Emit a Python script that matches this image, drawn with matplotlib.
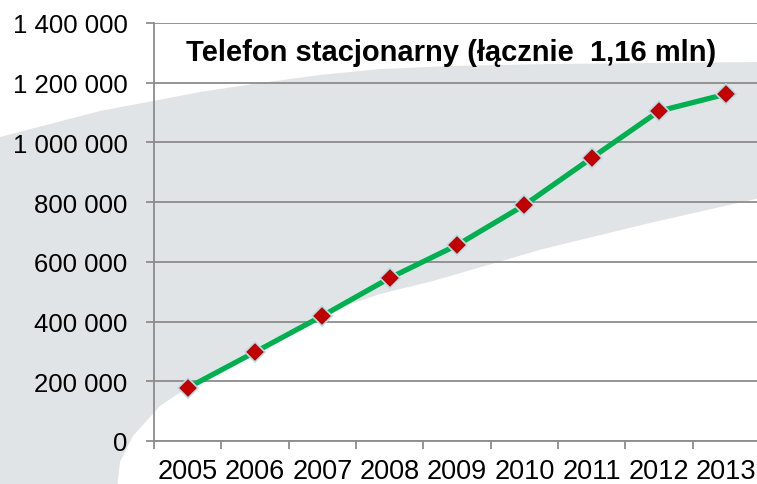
import numpy as np
import matplotlib
matplotlib.use("Agg")
import matplotlib.pyplot as plt
from matplotlib.patches import Polygon
from matplotlib.ticker import FuncFormatter, MultipleLocator

plt.rcParams['font.family'] = ['Liberation Sans', 'DejaVu Sans']

# data
years = ['2005', '2006', '2007', '2008', '2009', '2010', '2011', '2012', '2013']
users = [178000, 298000, 419000, 546000, 656000, 790000, 948000, 1105000, 1162000]
title = "Telefon stacjonarny (łącznie  1,16 mln)"

W, H = 757, 485
fig = plt.figure(figsize=(W / 100, H / 100), dpi=100)

# grey swoosh in the background (pixel outline of the decoration)
top_edge = [(0, 138), (50, 125), (100, 112), (153, 102), (200, 93), (253, 85),
            (320, 76), (380, 70), (450, 67), (550, 65), (760, 63)]
low_edge = [(760, 199), (650, 224), (543, 250), (433, 282), (380, 295), (330, 312),
            (267, 343), (200, 380), (160, 407), (133, 437), (120, 463), (117, 490)]
outline = np.array(top_edge + low_edge + [(0, 490)], dtype=float)
outline[:, 0] /= W
outline[:, 1] = 1 - outline[:, 1] / H
fig.patches.append(Polygon(outline, closed=True, transform=fig.transFigure,
                           facecolor='#e1e4e7', edgecolor='none', zorder=-5))

ax = fig.add_axes([154 / W, 43 / H, 606 / W, 418 / H])
ax.set_facecolor('none')

x = np.arange(len(years))
ax.plot(x, users, color='#00b050', lw=3.8, marker='D', ms=10,
        mfc='#c00000', mec='#b7dde8', mew=1.2, zorder=5)

ax.set_xlim(-0.5, len(years) - 0.5)
ax.set_ylim(0, 1400000)
ax.yaxis.set_major_locator(MultipleLocator(200000))
ax.yaxis.set_major_formatter(FuncFormatter(lambda v, p: f"{int(v):,}".replace(",", " ")))
ax.grid(axis='y', color='#8c8c8c', lw=1.3)
ax.set_axisbelow(True)

# category ticks between years, labels in the middle
ax.set_xticks(np.arange(len(years) + 1) - 0.5)
ax.set_xticklabels([])
ax.set_xticks(x, minor=True)
ax.set_xticklabels(years, minor=True)
ax.tick_params(axis='x', which='major', length=6, width=1.3, color='#8c8c8c')
ax.tick_params(axis='x', which='minor', length=0, pad=12, labelsize=19.5)
ax.tick_params(axis='y', length=6, width=1.3, color='#8c8c8c', pad=13, labelsize=18.5)

for s in ['top', 'right']:
    ax.spines[s].set_visible(False)
for s in ['left', 'bottom']:
    ax.spines[s].set_color('#8c8c8c')
    ax.spines[s].set_linewidth(1.3)

ax.text(0.49, 0.93, title, transform=ax.transAxes, ha='center', va='center',
        fontsize=21, fontweight='bold')

fig.savefig('out.png', dpi=100)
